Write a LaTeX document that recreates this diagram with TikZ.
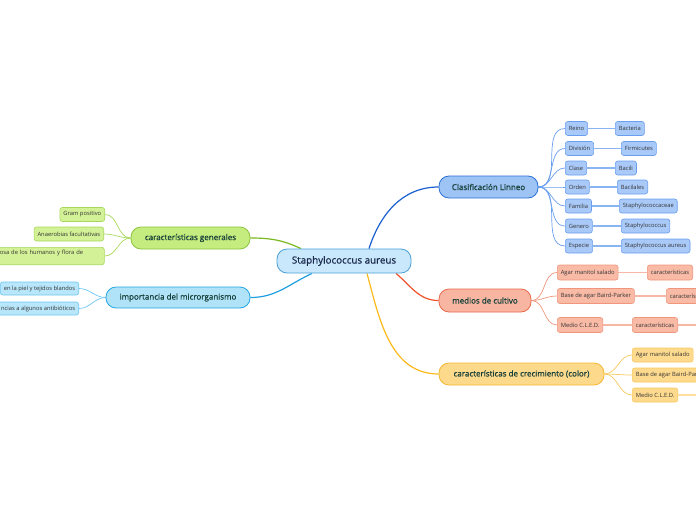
\documentclass[tikz,border=0pt]{standalone}
\usepackage{fontspec}
\setmainfont{Open Sans}
\newfontfamily\semibf[FakeBold=0.8]{Open Sans}
\usetikzlibrary{backgrounds}
\definecolor{rootF}{HTML}{CAE8FB}
\definecolor{rootD}{HTML}{4A9FD8}
\definecolor{rootT}{HTML}{1B2A4E}
\definecolor{lvlT}{HTML}{17403A}
\definecolor{leafT}{HTML}{333333}
\definecolor{bF}{HTML}{9EC4F6}
\definecolor{bD}{HTML}{2A6FD6}
\definecolor{bL}{HTML}{1A5FD0}
\definecolor{blF}{HTML}{A9C9F8}
\definecolor{blD}{HTML}{6A9EEE}
\definecolor{blL}{HTML}{8AB4F2}
\definecolor{oF}{HTML}{F8B6A2}
\definecolor{oD}{HTML}{E86A4A}
\definecolor{oL}{HTML}{F0502A}
\definecolor{olF}{HTML}{F9BAA6}
\definecolor{olD}{HTML}{F0967C}
\definecolor{olL}{HTML}{F6B8A4}
\definecolor{yF}{HTML}{FDD98C}
\definecolor{yD}{HTML}{F5B731}
\definecolor{yL}{HTML}{FBB91A}
\definecolor{ylF}{HTML}{FDDA8E}
\definecolor{ylD}{HTML}{F8C85A}
\definecolor{ylL}{HTML}{FDDFA0}
\definecolor{gF}{HTML}{C5EC7E}
\definecolor{gD}{HTML}{8CC43C}
\definecolor{gL}{HTML}{7AB820}
\definecolor{glF}{HTML}{D3F196}
\definecolor{glD}{HTML}{A8D85A}
\definecolor{glL}{HTML}{CCE8A4}
\definecolor{cF}{HTML}{B0E3F8}
\definecolor{cD}{HTML}{23A6E6}
\definecolor{cL}{HTML}{1EA0E0}
\definecolor{clF}{HTML}{B8E6FA}
\definecolor{clD}{HTML}{6CC6F0}
\definecolor{clL}{HTML}{A4DAF5}
\tikzset{
  rootnode/.style={draw=rootD, fill=rootF, rounded corners=10pt, line width=0.8pt,
    minimum width=134pt, minimum height=24pt, inner sep=0pt,
    font=\semibf\fontsize{9.8}{12}\selectfont, text=rootT},
  lvl/.style={rounded corners=10pt, line width=0.8pt, inner sep=0pt,
    minimum height=22pt, font=\semibf\fontsize{8}{10}\selectfont, text=lvlT},
  leaf/.style={rounded corners=2.5pt, line width=0.6pt, minimum height=14pt,
    inner xsep=3.5pt, inner ysep=0pt, font=\fontsize{5.8}{7}\selectfont, text=leafT},
  bleaf/.style={leaf, draw=blD, fill=blF},
  oleaf/.style={leaf, draw=olD, fill=olF, minimum height=15pt},
  yleaf/.style={leaf, draw=ylD, fill=ylF},
  gleaf/.style={leaf, draw=glD, fill=glF},
  cleaf/.style={leaf, draw=clD, fill=clF, minimum height=13pt},
  conn/.style={line width=1.2pt},
  sub/.style={line width=0.7pt},
  link/.style={line width=1.3pt},
}
\begin{document}
\begin{tikzpicture}[x=1pt,y=-1pt]
\useasboundingbox (0,0) rectangle (696,520);

% root
\node[rootnode] (root) at (344,261) {Staphylococcus aureus};

% level 1
\node[lvl, draw=bD, fill=bF, minimum width=99pt] (clas) at (488.5,187) {Clasificación Linneo};
\node[lvl, draw=oD, fill=oF, minimum width=92pt, minimum height=23pt] (med) at (485,300.5) {medios de cultivo};
\node[lvl, draw=yD, fill=yF, minimum width=165pt] (cre) at (521.5,374) {características de crecimiento (color)};
\node[lvl, draw=gD, fill=gF, minimum width=119pt] (gen) at (190.5,238) {características generales};
\node[lvl, draw=cD, fill=cF, minimum width=144pt, minimum height=21pt] (imp) at (178,297.5) {importancia del microrganismo};

% Linneo leaves
\node[bleaf, anchor=west] (l1) at (565,128.5) {Reino};
\node[bleaf, anchor=west] (l2) at (565,148.5) {División};
\node[bleaf, anchor=west] (l3) at (565,168) {Clase};
\node[bleaf, anchor=west] (l4) at (565,187) {Orden};
\node[bleaf, anchor=west] (l5) at (565,206) {Familia};
\node[bleaf, anchor=west] (l6) at (565,226) {Genero};
\node[bleaf, anchor=west] (l7) at (565,246) {Especie};
\node[bleaf, anchor=west] (r1) at (615,128.5) {Bacteria};
\node[bleaf, anchor=west] (r2) at (621,148.5) {Firmicutes};
\node[bleaf, anchor=west] (r3) at (615,168) {Bacili};
\node[bleaf, anchor=west] (r4) at (617,187) {Bacilales};
\node[bleaf, anchor=west] (r5) at (619,206) {Staphylococcaceae};
\node[bleaf, anchor=west] (r6) at (621,226) {Staphylococcus};
\node[bleaf, anchor=west] (r7) at (621,246) {Staphylococcus aureus};

% medios leaves
\node[oleaf, anchor=west] (m1) at (557,272.5) {Agar manitol salado};
\node[oleaf, anchor=west] (m2) at (557,296) {Base de agar Baird-Parker};
\node[oleaf, anchor=west] (m3) at (557,325) {Medio C.L.E.D.};
\node[oleaf, anchor=west] (mc1) at (647,272.5) {características};
\node[oleaf, anchor=west] (mc2) at (666,296) {características};
\node[oleaf, anchor=west] (mc3) at (632,325) {características};
\coordinate (mc3x) at (720,325);

% crecimiento leaves
\node[yleaf, anchor=west] (y1) at (632,355) {Agar manitol salado};
\node[yleaf, anchor=west] (y2) at (632,375) {Base de agar Baird-Parker};
\node[yleaf, anchor=west] (y3) at (632,395) {Medio C.L.E.D.};
\coordinate (y3x) at (720,395);

% generales leaves
\node[gleaf, anchor=east] (g1) at (105,214.5) {Gram positivo};
\node[gleaf, anchor=east] (g2) at (104,234) {Anaerobias facultativas};
\node[gleaf, anchor=north west, text width=101pt, align=left, inner ysep=3pt] (g3) at (-4,247)
  {osa de los humanos y flora de\\[0pt]~};

% importancia leaves
\node[cleaf, anchor=east] (c1) at (79,288.5) {en la piel y tejidos blandos};
\node[cleaf, anchor=east] (c2) at (79,308.5) {ncias a algunos antibióticos};

\begin{scope}[on background layer]
  % root connectors
  \draw[conn, bL] ([xshift=25pt]root.north) to[out=72,in=180] (clas.west);
  \draw[conn, oL] ([xshift=52pt]root.south) to[out=-40,in=180] (med.west);
  \draw[conn, yL] ([xshift=23pt]root.south) to[out=-75,in=180] (cre.west);
  \draw[conn, gL] ([xshift=-43pt]root.north) to[out=155,in=0] (gen.east);
  \draw[conn, cL] ([xshift=-32pt]root.south) to[out=-155,in=0] (imp.east);
  % Linneo
  \foreach \i in {1,...,7} {
    \draw[sub, blD] (clas.east) to[out=0,in=180] (l\i.west);
    \draw[link, blL] (l\i.east) -- (r\i.west);
  }
  % medios
  \foreach \i in {1,2,3} {
    \draw[sub, olD] (med.east) to[out=0,in=180] (m\i.west);
    \draw[link, olL] (m\i.east) -- (mc\i.west);
  }
  \draw[link, olL] (mc3.east) -- (mc3x);
  % crecimiento
  \foreach \i in {1,2,3} {
    \draw[sub, ylD] (cre.east) to[out=0,in=180] (y\i.west);
  }
  \draw[link, ylL] (y3.east) -- (y3x);
  % generales
  \foreach \i in {1,2} {
    \draw[sub, glD] (gen.west) to[out=180,in=0] (g\i.east);
  }
  \draw[sub, glD] (gen.west) to[out=180,in=0] (g3.east);
  % importancia
  \foreach \i in {1,2} {
    \draw[sub, clD] (imp.west) to[out=180,in=0] (c\i.east);
  }
\end{scope}
\end{tikzpicture}
\end{document}
